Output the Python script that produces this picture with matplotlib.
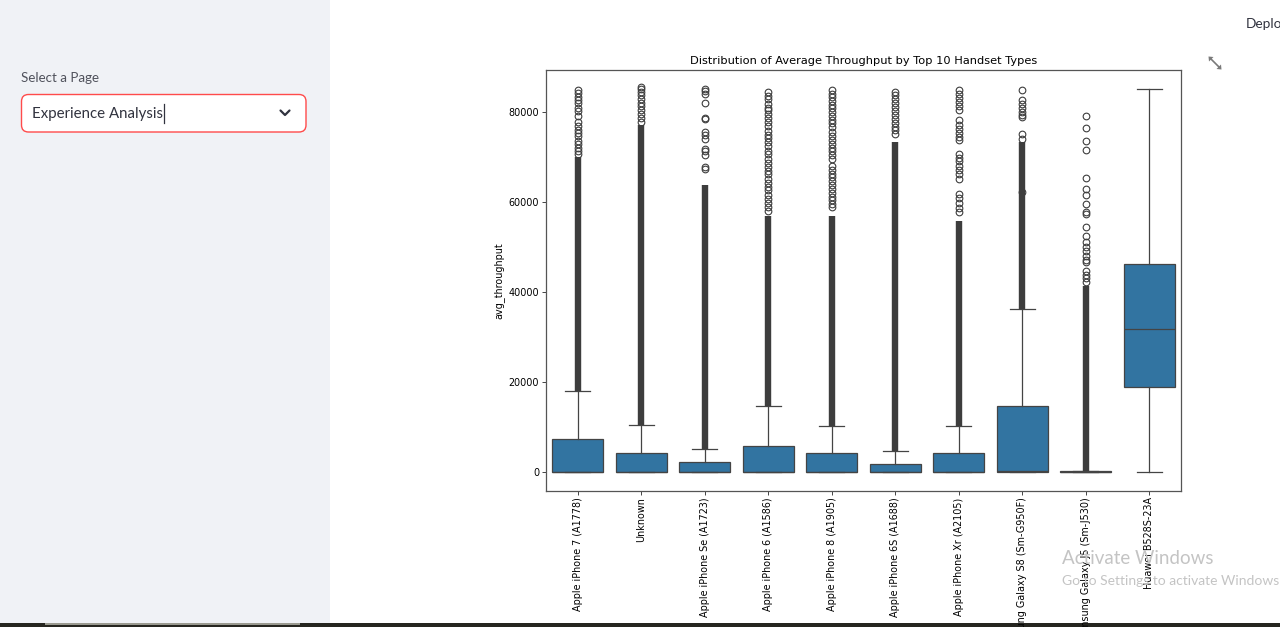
import matplotlib
matplotlib.use("Agg")
import matplotlib.pyplot as plt
from matplotlib.patches import FancyBboxPatch, Polygon, Rectangle

# ---------------------------------------------------------------------------
# Donnees lues sur la capture
# ---------------------------------------------------------------------------
handsets = [
    "Apple iPhone 7 (A1778)", "Unknown", "Apple iPhone Se (A1723)",
    "Apple iPhone 6 (A1586)", "Apple iPhone 8 (A1905)", "Apple iPhone 6S (A1688)",
    "Apple iPhone Xr (A2105)", "Samsung Galaxy S8 (Sm-G950F)",
    "Samsung Galaxy J5 (Sm-J530)", "Huawei B528S-23A",
]
q1 = [20, 20, 15, 25, 20, 15, 20, 30, 5, 18790]
median = [60, 55, 45, 70, 55, 40, 55, 120, 20, 31640]
q3 = [7290, 4160, 2160, 5790, 4080, 1780, 4080, 14560, 100, 46130]
whisker_low = [0, 0, 0, 0, 0, 0, 0, 0, 0, 0]
whisker_high = [18050, 10320, 5120, 14560, 10100, 4530, 10250, 36100, 300, 85120]

# zones ou les outliers se chevauchent au point de former une colonne pleine
dense_low = [18050, 10320, 5120, 14560, 10100, 4530, 10250, 36100, 300, None]
dense_high = [70000, 77000, 63700, 56900, 56900, 73250, 55800, 73250, 41300, None]

# outliers encore distincts au-dessus des colonnes pleines
fliers = [
    [84700, 84100, 83200, 82500, 81900, 80800, 80100, 79000, 77600, 76900,
     76000, 75200, 74600, 73500, 72800, 71900, 71200, 70500],
    [85500, 85000, 84300, 83600, 82900, 82000, 81200, 80300, 79500, 78600, 77800],
    [85100, 84600, 84000, 82000, 78600, 78300, 75500, 74900, 73900, 71800,
     71200, 70300, 67800, 67300],
    [84400, 83500, 82700, 81800, 80900, 80300, 79400, 78500, 77600, 76800,
     75700, 74900, 74100, 73200, 72400, 71300, 70600, 69500, 68700, 67800,
     66900, 66100, 65000, 64200, 63300, 62500, 61400, 60600, 59700, 58800, 57900],
    [84750, 84000, 83200, 82400, 81500, 80700, 79900, 79100, 78200, 77400,
     76600, 75400, 74600, 73700, 72900, 72000, 71200, 70400, 69500, 67900,
     67100, 66200, 65400, 64500, 63700, 62800, 62000, 61100, 60300, 59500, 58760],
    [84400, 83600, 82800, 81900, 81000, 80200, 79300, 78400, 77500, 76700,
     75900, 75100],
    [84750, 83900, 83000, 82100, 81200, 80300, 78060, 77100, 76200, 75300,
     74400, 73600, 70640, 69800, 69000, 68000, 67100, 66100, 65070, 61730,
     60800, 59700, 58700, 57700],
    [84750, 82520, 81700, 80900, 80000, 79300, 78820, 75100, 73900, 62100],
    [78950, 76370, 73390, 71380, 65220, 62840, 61500, 59490, 57640, 57270,
     54300, 52440, 51000, 50000, 49000, 48000, 47000, 46600, 44640, 43800,
     43000, 42060],
    [],
]

BOX_COLOR = "#3274a1"
LINE_COLOR = "#444444"
W, H = 1280, 627


def px(x, y):
    """Pixel de la capture -> fraction de figure."""
    return x / W, 1 - y / H


fig = plt.figure(figsize=(W / 100, H / 100), dpi=100)
fig.patch.set_facecolor("white")

# ---------------------------------------------------------------------------
# Habillage de l'application (barre laterale, selecteur, etc.)
# ---------------------------------------------------------------------------
bg = fig.add_axes([0, 0, 1, 1], zorder=-1)
bg.set_xlim(0, W)
bg.set_ylim(H, 0)
bg.axis("off")
bg.add_patch(Rectangle((0, 0), 330, H, color="#f0f2f6", lw=0))
bg.add_patch(FancyBboxPatch((21.5, 94.5), 284.5, 37.5,
                            boxstyle="round,pad=0,rounding_size=7",
                            facecolor="white", edgecolor="#ff4b4b", lw=1.0))
bg.add_patch(Rectangle((0, 623), W, 4, color="#262620", lw=0))
bg.add_patch(Rectangle((45, 623), 255, 1.5, color="#9a9a90", lw=0))
bg.text(21, 78, "Select a Page", fontsize=9.6, color="#50525c",
        family="Lato", va="center", ha="left")
bg.text(32, 114, "Experience Analysis", fontsize=10.8, color="#31333f",
        family="Lato", va="center", ha="left")
bg.plot([164, 164], [104, 123], color="#31333f", lw=0.9)
bg.plot([280.5, 285, 289.5], [110.5, 115, 110.5], color="#31333f", lw=1.6,
        solid_capstyle="round", solid_joinstyle="round")
bg.text(1246, 24, "Deplo", fontsize=9.8, color="#31333f", family="Lato",
        va="center", ha="left")
# icone plein ecran : deux fleches diagonales
icon_color = "#7a7a7a"
bg.plot([1211, 1214.5], [59, 62.5], color=icon_color, lw=1.2)
bg.plot([1215.5, 1219], [63.5, 67], color=icon_color, lw=1.2)
bg.add_patch(Polygon([(1208.5, 56.5), (1213.5, 57), (1209, 61.5)],
                     closed=True, color=icon_color, lw=0))
bg.add_patch(Polygon([(1221.5, 69.5), (1216.5, 69), (1221, 64.5)],
                     closed=True, color=icon_color, lw=0))

# ---------------------------------------------------------------------------
# Boxplot
# ---------------------------------------------------------------------------
l, b = px(546, 491)
r, t = px(1181, 70)
ax = fig.add_axes([l, b, r - l, t - b])

stats = []
for i, name in enumerate(handsets):
    stats.append(dict(label=name, q1=q1[i], med=median[i], q3=q3[i],
                      whislo=whisker_low[i], whishi=whisker_high[i], fliers=[]))

line_kw = dict(color=LINE_COLOR, lw=0.9)
ax.bxp(stats, positions=range(len(handsets)), widths=0.8, patch_artist=True,
       showfliers=False, capwidths=0.4,
       boxprops=dict(facecolor=BOX_COLOR, edgecolor=LINE_COLOR, lw=0.9),
       medianprops=line_kw, whiskerprops=line_kw, capprops=line_kw)

for i in range(len(handsets)):
    if dense_low[i] is not None:
        ax.vlines(i, dense_low[i], dense_high[i], color="#3d3d3d", lw=4.6,
                  zorder=3)
    if fliers[i]:
        ax.plot([i] * len(fliers[i]), fliers[i], ls="", marker="o",
                ms=4.8, mfc="none", mec="#3d3d3d", mew=0.8, zorder=3)

ax.set_xlim(-0.5, len(handsets) - 0.5)
ax.set_ylim(-4250, 89250)
ax.set_yticks([0, 20000, 40000, 60000, 80000])
ax.set_xticks(range(len(handsets)))
ax.set_xticklabels(handsets, rotation=90, fontsize=6.9)
ax.tick_params(axis="y", labelsize=6.9, length=3, width=0.7, pad=2,
               color=LINE_COLOR)
ax.tick_params(axis="x", length=3, width=0.7, pad=1.5, color=LINE_COLOR)
for sp in ax.spines.values():
    sp.set_color("#555555")
    sp.set_linewidth(0.9)
ax.set_ylabel("avg_throughput", fontsize=6.9, labelpad=3)
ax.set_title("Distribution of Average Throughput by Top 10 Handset Types",
             fontsize=8.2, pad=4)

# filigrane Windows present sur la capture
fig.text(*px(1062, 559), "Activate Windows", fontsize=13.5, color="#c4c4c4",
         family="Lato", va="center", ha="left", zorder=10)
fig.text(*px(1062, 581), "Go to Settings to activate Windows.", fontsize=10,
         color="#c4c4c4", family="Lato", va="center", ha="left", zorder=10)

fig.savefig("out.png", dpi=100)
